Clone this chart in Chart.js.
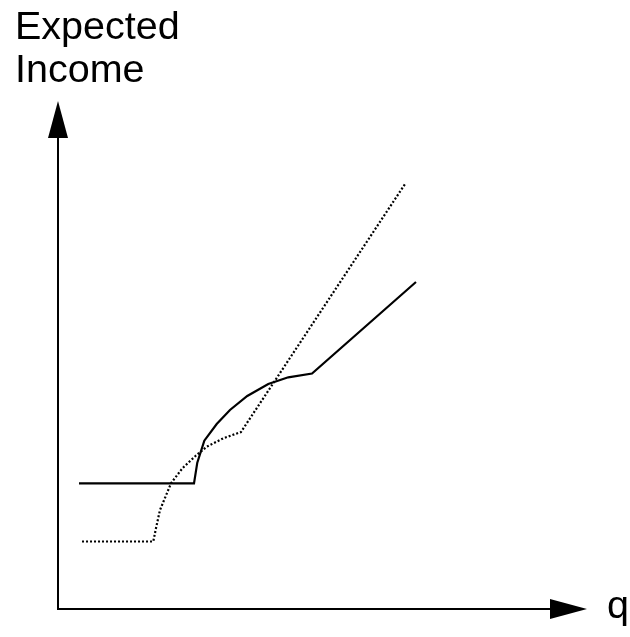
<!DOCTYPE html>
<html>
<head>
<meta charset="utf-8">
<script src="https://cdn.jsdelivr.net/npm/chart.js@4"></script>
<style>
  html,body{margin:0;padding:0;background:#fff;}
  #chart{display:block;}
</style>
</head>
<body>
<canvas id="chart" width="630" height="637"></canvas>
<script>
/* === DATA (q on 0..100, income on 0..100) === */
const solidQ   = [3.97, 25.71, 26.33, 27.66, 30.0, 32.51, 35.78, 39.75, 43.53, 48.02, 67.67];
const solidY   = [24.74, 24.74, 28.8, 33.13, 36.42, 39.17, 41.93, 44.29, 45.61, 46.36, 64.37];
const dottedQ  = [4.54, 18.01, 18.53, 19.28, 21.36, 23.53, 25.99, 28.11, 31.25, 34.59, 65.6];
const dottedY  = [13.29, 13.29, 15.94, 19.49, 24.74, 27.72, 30.12, 31.95, 33.6, 34.84, 83.66];
const yAxisLabel = ["Expected", "Income"];
const xAxisLabel = "q";
const axisMin = 0, axisMax = 100;

function toPoints(xs, ys){ return xs.map((x,i)=>({x:x, y:ys[i]})); }

const FONT = '39.5px "Liberation Sans", Arial, sans-serif';

/* === AXES WITH ARROWS + LABELS === */
const arrowAxes = {
  id: "arrowAxes",
  afterDraw(chart){
    const ctx = chart.ctx;
    const xs = chart.scales.x, ys = chart.scales.y;
    const x0 = xs.getPixelForValue(axisMin), x1 = xs.getPixelForValue(axisMax);
    const y0 = ys.getPixelForValue(axisMin), y1 = ys.getPixelForValue(axisMax);
    const headLen = 37, headHalf = 10;
    ctx.save();
    ctx.strokeStyle = "#000";
    ctx.fillStyle = "#000";
    ctx.lineWidth = 2;
    // y axis
    ctx.beginPath();
    ctx.moveTo(x0, y0 + 1);
    ctx.lineTo(x0, y1 + headLen);
    ctx.stroke();
    ctx.beginPath();
    ctx.moveTo(x0, y1);
    ctx.lineTo(x0 - headHalf, y1 + headLen);
    ctx.lineTo(x0 + headHalf, y1 + headLen);
    ctx.closePath();
    ctx.fill();
    // x axis
    ctx.beginPath();
    ctx.moveTo(x0 - 1, y0);
    ctx.lineTo(x1 - headLen, y0);
    ctx.stroke();
    ctx.beginPath();
    ctx.moveTo(x1, y0);
    ctx.lineTo(x1 - headLen, y0 - headHalf);
    ctx.lineTo(x1 - headLen, y0 + headHalf);
    ctx.closePath();
    ctx.fill();
    // labels
    ctx.font = FONT;
    ctx.textAlign = "left";
    ctx.textBaseline = "alphabetic";
    ctx.fillText(yAxisLabel[0], 15, 39);
    ctx.fillText(yAxisLabel[1], 15, 82);
    ctx.fillText(xAxisLabel, x1 + 20, y0 + 9);
    ctx.restore();
  }
};

new Chart(document.getElementById("chart"), {
  type: "scatter",
  data: {
    datasets: [
      {
        label: "solid",
        data: toPoints(solidQ, solidY),
        showLine: true,
        borderColor: "#000",
        borderWidth: 2.2,
        pointRadius: 0,
        tension: 0,
        fill: false
      },
      {
        label: "dotted",
        data: toPoints(dottedQ, dottedY),
        showLine: true,
        borderColor: "#000",
        borderWidth: 2.2,
        borderDash: [2, 2],
        pointRadius: 0,
        tension: 0,
        fill: false
      }
    ]
  },
  options: {
    responsive: false,
    animation: false,
    layout: { padding: { left: 58, right: 43, top: 101, bottom: 28 } },
    plugins: { legend: { display: false }, tooltip: { enabled: false } },
    scales: {
      x: { type: "linear", min: axisMin, max: axisMax, display: false },
      y: { type: "linear", min: axisMin, max: axisMax, display: false }
    }
  },
  plugins: [arrowAxes]
});
</script>
</body>
</html>
